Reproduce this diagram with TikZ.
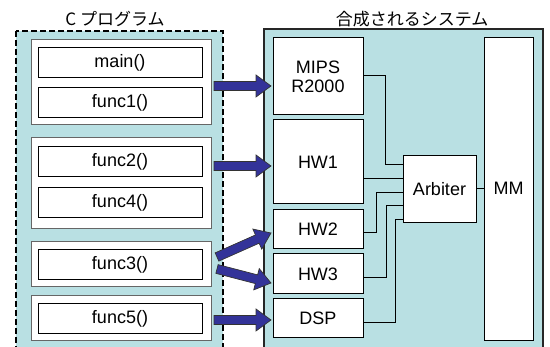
\documentclass[tikz,border=0pt]{standalone}
\usepackage{fontspec}
\setmainfont{Liberation Sans}
\newfontfamily\jfont{Noto Sans CJK JP}
\usetikzlibrary{calc}
\definecolor{bgcyan}{HTML}{B9E0E3}
\definecolor{arrblue}{HTML}{333399}
\tikzset{
  grp/.style={draw=black!60, fill=white, line width=0.8pt},
  fbox/.style={draw=black, fill=white, line width=1pt, font=\fontsize{18}{20}\selectfont},
  hwbox/.style={draw=black, fill=white, line width=1pt, font=\fontsize{18}{21}\selectfont, align=center},
  wire/.style={draw=black, line width=0.9pt},
  blk/.style={fill=arrblue, draw=black!80, line width=0.7pt, line join=miter},
  ttl/.style={font=\jfont\fontsize{17}{18}\selectfont}
}
\newcommand\barrow[2]{%
  \coordinate (hh) at ($(#2)!15pt!(#1)$);
  \filldraw[blk] ($(#1)!4.5pt!90:(#2)$) -- ($(hh)!4.5pt!90:(#2)$) -- ($(hh)!11pt!90:(#2)$) -- (#2)
    -- ($(hh)!11pt!-90:(#2)$) -- ($(hh)!4.5pt!-90:(#2)$) -- ($(#1)!4.5pt!-90:(#2)$) -- cycle;}
\begin{document}
\begin{tikzpicture}[x=1pt,y=-1pt]
\useasboundingbox (0,0) rectangle (550,347);
\fill[white] (0,0) rectangle (550,347);
\begin{scope}
\clip (0,0) rectangle (550,347);
% left program box
\draw[fill=bgcyan, line width=1.8pt, dash pattern=on 6pt off 3pt] (16,31) rectangle (223,370);
% right system box
\draw[fill=bgcyan, draw=black!85, line width=1.5pt] (264,29) rectangle (543,370);
\end{scope}
\node[ttl] (tl) at (115,19) {C プログラム};
\node[ttl] (tr) at (412,19) {合成されるシステム};
% groups
\node[grp, minimum width=180pt, minimum height=85pt] (g1) at (121,81.5) {};
\node[grp, minimum width=180pt, minimum height=91pt] (g2) at (121,182.5) {};
\node[grp, minimum width=180pt, minimum height=45pt] (g3) at (121,263.5) {};
\node[grp, minimum width=180pt, minimum height=45pt] (g4) at (121,317.5) {};
% functions
\foreach \n/\t/\y in {fm/main()/63, f1/func1()/103, f2/func2()/162, f4/func4()/202.5, f3/func3()/265, f5/func5()/319}
  \node[fbox, minimum width=164pt, minimum height=30pt, inner sep=0pt] (\n) at (120,\y) {\t};
% hardware
\node[hwbox, minimum width=90pt, minimum height=77pt, inner sep=0pt] (mips) at (318,76.5) {MIPS\\[-2pt]R2000};
\node[hwbox, minimum width=90pt, minimum height=84pt, inner sep=0pt] (hw1) at (318,162) {HW1};
\node[hwbox, minimum width=90pt, minimum height=39pt, inner sep=0pt] (hw2) at (318,229.5) {HW2};
\node[hwbox, minimum width=90pt, minimum height=40pt, inner sep=0pt] (hw3) at (318,274) {HW3};
\node[hwbox, minimum width=90pt, minimum height=39pt, inner sep=0pt] (dsp) at (318,318.5) {DSP};
\node[hwbox, minimum width=73pt, minimum height=67pt, inner sep=0pt] (arb) at (439.5,189.5) {Arbiter};
\node[hwbox, minimum width=49pt, minimum height=303pt, inner sep=0pt] (mm) at (508.5,189.5) {};
\node[font=\fontsize{18}{21}\selectfont] (mmt) at (508.5,188) {MM};
% wires
\draw[wire] (mips.east |- 0,75) -| (385,164) -- (arb.west |- 0,164);
\draw[wire] (hw1.east |- 0,178) -- (arb.west |- 0,178);
\draw[wire] (hw2.east |- 0,232) -| (376,192) -- (arb.west |- 0,192);
\draw[wire] (hw3.east |- 0,277) -| (386,205) -- (arb.west |- 0,205);
\draw[wire] (dsp.east |- 0,322) -| (395,219) -- (arb.west |- 0,219);
\draw[wire] (arb.east |- 0,188) -- (mm.west |- 0,188);
% arrows
\coordinate (s1) at (214,86); \coordinate (e1) at (271,86);
\coordinate (s2) at (214,166); \coordinate (e2) at (271,166);
\coordinate (s3) at (217,257); \coordinate (e3) at (271,233);
\coordinate (s4) at (217,269); \coordinate (e4) at (271,283);
\coordinate (s5) at (214,320); \coordinate (e5) at (271,320);
\barrow{s1}{e1}
\barrow{s2}{e2}
\barrow{s3}{e3}
\barrow{s4}{e4}
\barrow{s5}{e5}
\end{tikzpicture}
\end{document}
